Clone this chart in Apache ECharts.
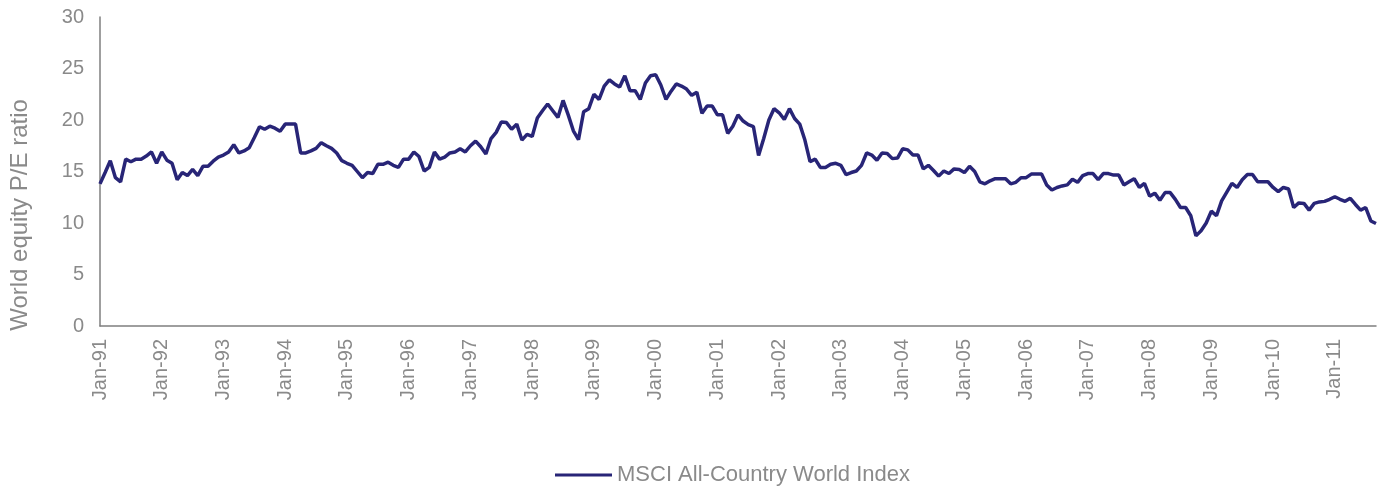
<!DOCTYPE html>
<html>
<head>
<meta charset="utf-8">
<script src="https://cdn.jsdelivr.net/npm/echarts@6/dist/echarts.min.js"></script>
<style>
  html, body { margin: 0; padding: 0; background: #fff; }
  #chart { width: 1380px; height: 486px; }
</style>
</head>
<body>
<div id="chart"></div>
<script>
// monthly P/E, Jan-91 .. Sep-11
var pe1991 = [13.8, 14.9, 16.05, 14.4, 14.0, 16.2, 15.95, 16.2, 16.2, 16.5, 16.9, 15.8];
var pe1992 = [16.9, 16.1, 15.8, 14.2, 14.9, 14.6, 15.2, 14.6, 15.5, 15.5, 16.0, 16.4];
var pe1993 = [16.6, 16.9, 17.6, 16.8, 17.0, 17.3, 18.3, 19.35, 19.1, 19.4, 19.2, 18.9];
var pe1994 = [19.6, 19.6, 19.6, 16.8, 16.8, 17.0, 17.25, 17.8, 17.5, 17.25, 16.8, 16.05];
var pe1995 = [15.8, 15.6, 15.0, 14.4, 14.9, 14.8, 15.7, 15.7, 15.9, 15.6, 15.4, 16.2];
var pe1996 = [16.2, 16.9, 16.45, 15.05, 15.4, 16.9, 16.2, 16.4, 16.8, 16.9, 17.2, 16.9];
var pe1997 = [17.5, 17.95, 17.4, 16.7, 18.2, 18.8, 19.8, 19.75, 19.1, 19.6, 18.05, 18.6];
var pe1998 = [18.4, 20.2, 20.9, 21.55, 20.9, 20.25, 21.9, 20.5, 18.95, 18.1, 20.8, 21.1];
var pe1999 = [22.5, 22.0, 23.3, 23.9, 23.5, 23.2, 24.3, 22.85, 22.85, 22.0, 23.6, 24.3];
var pe2000 = [24.4, 23.4, 22.0, 22.8, 23.5, 23.3, 23.0, 22.4, 22.7, 20.65, 21.35, 21.35];
var pe2001 = [20.5, 20.5, 18.7, 19.4, 20.5, 19.9, 19.55, 19.35, 16.55, 18.2, 20.0, 21.1];
var pe2002 = [20.7, 20.05, 21.1, 20.15, 19.6, 18.05, 15.95, 16.2, 15.4, 15.4, 15.7, 15.8];
var pe2003 = [15.6, 14.7, 14.9, 15.05, 15.6, 16.8, 16.6, 16.1, 16.8, 16.75, 16.25, 16.3];
var pe2004 = [17.2, 17.1, 16.6, 16.6, 15.25, 15.6, 15.1, 14.55, 15.05, 14.8, 15.25, 15.2];
var pe2005 = [14.9, 15.5, 15.0, 14.0, 13.8, 14.1, 14.3, 14.3, 14.3, 13.8, 13.95, 14.4];
var pe2006 = [14.4, 14.75, 14.75, 14.75, 13.7, 13.2, 13.45, 13.6, 13.7, 14.25, 13.95, 14.6];
var pe2007 = [14.8, 14.8, 14.2, 14.8, 14.8, 14.65, 14.65, 13.7, 14.0, 14.3, 13.45, 13.85];
var pe2008 = [12.6, 12.9, 12.2, 12.95, 12.95, 12.3, 11.5, 11.5, 10.7, 8.75, 9.25, 10.0];
var pe2009 = [11.15, 10.7, 12.15, 13.0, 13.85, 13.45, 14.2, 14.7, 14.7, 14.0, 14.0, 14.0];
var pe2010 = [13.45, 13.05, 13.45, 13.3, 11.5, 11.95, 11.9, 11.25, 11.9, 12.05, 12.1, 12.3];
var pe2011 = [12.55, 12.3, 12.1, 12.4, 11.8, 11.25, 11.5, 10.2, 9.95];

var monthNames = ['Jan', 'Feb', 'Mar', 'Apr', 'May', 'Jun', 'Jul', 'Aug', 'Sep', 'Oct', 'Nov', 'Dec'];
var yearLabels = ['91', '92', '93', '94', '95', '96', '97', '98', '99', '00',
                  '01', '02', '03', '04', '05', '06', '07', '08', '09', '10', '11'];
var seriesName = 'MSCI All-Country World Index';
var yTitle = 'World equity P/E ratio';

var values = [].concat(pe1991, pe1992, pe1993, pe1994, pe1995, pe1996, pe1997,
    pe1998, pe1999, pe2000, pe2001, pe2002, pe2003, pe2004, pe2005, pe2006,
    pe2007, pe2008, pe2009, pe2010, pe2011);

var months = [];
for (var i = 0; i < values.length; i++) {
    months.push(monthNames[i % 12] + '-' + yearLabels[Math.floor(i / 12)]);
}

var font = 'Liberation Sans';
var grey = '#8a8a8a';

var chart = echarts.init(document.getElementById('chart'), null, {renderer: 'canvas'});
var option = {};
option['animation'] = false;
option['backgroundColor'] = '#ffffff';

option['grid'] = {
    left: 100,
    right: 4,
    top: 17,
    bottom: 160,
    containLabel: false
};

option['legend'] = {
    data: [seriesName],
    left: 550,
    top: 459,
    icon: 'rect',
    itemWidth: 57,
    itemHeight: 3,
    textStyle: {
        fontFamily: font,
        fontSize: 22,
        color: grey
    }
};

option['xAxis'] = {
    type: 'category',
    data: months,
    boundaryGap: false,
    axisLine: {lineStyle: {color: '#7f7f7f', width: 1.5}},
    axisTick: {show: false},
    splitLine: {show: false},
    axisLabel: {
        interval: 11,
        rotate: 90,
        margin: 13,
        fontFamily: font,
        fontSize: 20,
        color: grey
    }
};

option['yAxis'] = {
    type: 'value',
    min: 0,
    max: 30,
    interval: 5,
    axisLine: {show: true, lineStyle: {color: '#7f7f7f', width: 1.5}},
    axisTick: {show: false},
    splitLine: {show: false},
    axisLabel: {
        margin: 16,
        fontFamily: font,
        fontSize: 20,
        color: grey
    }
};

option['graphic'] = [{
    type: 'text',
    x: 20,
    y: 215,
    rotation: Math.PI / 2,
    style: {
        text: yTitle,
        fontFamily: font,
        fontSize: 24,
        fill: grey,
        textAlign: 'center',
        textVerticalAlign: 'middle'
    }
}];

option['series'] = [{
    name: seriesName,
    type: 'line',
    data: values,
    showSymbol: false,
    lineStyle: {color: '#282577', width: 3.5},
    itemStyle: {color: '#282577'}
}];

option && chart.setOption(option);
</script>
</body>
</html>
